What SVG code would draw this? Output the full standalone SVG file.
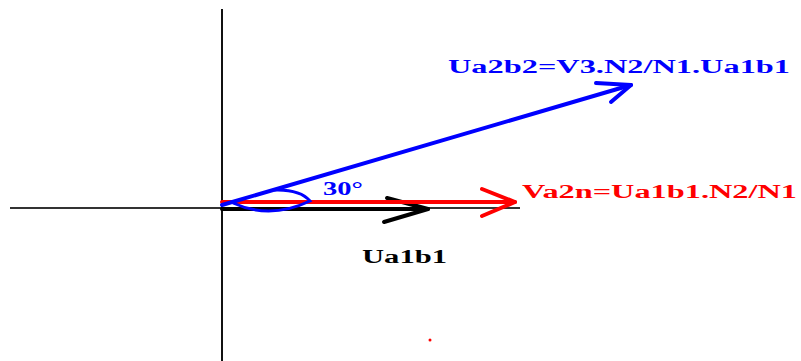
<svg xmlns="http://www.w3.org/2000/svg" width="801" height="361" viewBox="0 0 801 361">
<style>
.lbl{font-family:"Liberation Serif","Times New Roman",serif;font-weight:bold;font-size:18px}
.vec{fill:none;stroke-width:4;stroke-linecap:round;stroke-linejoin:round}
</style>
<rect width="801" height="361" fill="#fff"/>
<g id="axes">
<line x1="10" y1="208" x2="520" y2="208" stroke="#333" stroke-width="2"/>
<line x1="222" y1="9" x2="222" y2="361" stroke="#111" stroke-width="2"/>
</g>
<g id="connectors">
<g id="vec-black">
<line class="vec" x1="222" y1="209" x2="428" y2="209" stroke="#000"/>
<polyline class="vec" points="387,198 428,209 384,222" stroke="#000"/>
</g>
<g id="vec-red">
<line class="vec" x1="222" y1="202" x2="515" y2="202" stroke="#f00"/>
<polyline class="vec" points="482,189 515,202 482,216" stroke="#f00"/>
</g>
<g id="vec-blue">
<line class="vec" x1="222" y1="205" x2="631" y2="85" stroke="#00f"/>
<polyline class="vec" points="596,83 631,85 611,102" stroke="#00f"/>
<path d="M233,203 Q270,220 310,201 Q300,189 274,190" fill="none" stroke="#00f" stroke-width="3"/>
</g>
</g>
<g id="label-angle"><text class="lbl" x="323" y="195" fill="#00f" textLength="40" lengthAdjust="spacingAndGlyphs">30°</text></g>
<g id="label-blue"><text class="lbl" x="448" y="73" fill="#00f" textLength="342" lengthAdjust="spacingAndGlyphs">Ua2b2=V3.N2/N1.Ua1b1</text></g>
<g id="label-red"><text class="lbl" x="522" y="198" fill="#f00" textLength="275" lengthAdjust="spacingAndGlyphs">Va2n=Ua1b1.N2/N1</text></g>
<g id="label-black"><text class="lbl" x="362" y="263" fill="#000" textLength="85" lengthAdjust="spacingAndGlyphs">Ua1b1</text></g>
<circle cx="430" cy="340" r="1.5" fill="#f00"/>
</svg>
